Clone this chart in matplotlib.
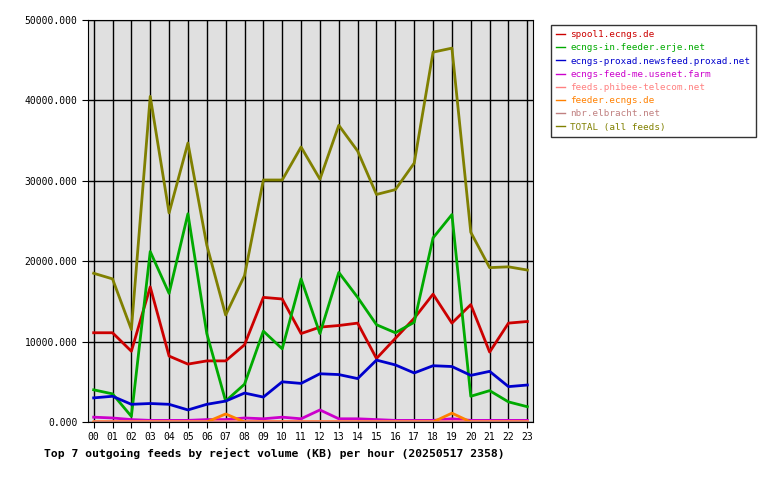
import matplotlib
matplotlib.use("Agg")
import matplotlib.pyplot as plt

hours = ["%02d" % h for h in range(24)]

spool1 = [11100, 11100, 8800, 16800, 8200, 7200, 7600, 7600, 9600, 15500, 15300, 11000,
          11800, 12000, 12300, 7900, 10400, 12900, 15900, 12300, 14600, 8700, 12300, 12500]
ecngs_in = [4000, 3500, 700, 21200, 16000, 25900, 11000, 2600, 4700, 11300, 9100, 17800,
            11000, 18600, 15500, 12100, 11100, 12400, 22900, 25800, 3200, 3900, 2500, 1900]
proxad = [3000, 3200, 2200, 2300, 2200, 1500, 2200, 2600, 3600, 3100, 5000, 4800,
          6000, 5900, 5400, 7700, 7100, 6100, 7000, 6900, 5800, 6300, 4400, 4600]
usenet_farm = [600, 500, 300, 200, 200, 200, 300, 300, 500, 400, 600, 400,
               1500, 400, 400, 300, 200, 200, 200, 400, 200, 200, 200, 200]
phibee = [100] * 24
feeder = [0, 0, 0, 0, 0, 0, 0, 1000, 0, 0, 0, 0, 0, 0, 0, 0, 0, 0, 0, 1100, 0, 0, 0, 0]
elbracht = [0] * 24
total = [18500, 17800, 11500, 40500, 26000, 34700, 22000, 13300, 18200, 30100, 30100, 34200,
         30200, 36900, 33700, 28300, 28900, 32200, 46000, 46500, 23600, 19200, 19300, 18900]

series = [
    ("spool1.ecngs.de", spool1, "#cc0000"),
    ("ecngs-in.feeder.erje.net", ecngs_in, "#00aa00"),
    ("ecngs-proxad.newsfeed.proxad.net", proxad, "#0000cc"),
    ("ecngs-feed-me.usenet.farm", usenet_farm, "#cc00cc"),
    ("feeds.phibee-telecom.net", phibee, "#ff8080"),
    ("feeder.ecngs.de", feeder, "#ff8000"),
    ("nbr.elbracht.net", elbracht, "#c08080"),
    ("TOTAL (all feeds)", total, "#808000"),
]

plt.rcParams["font.family"] = "DejaVu Sans Mono"
fig = plt.figure(figsize=(7.8, 4.8), dpi=100)
ax = fig.add_axes([88 / 780, 58 / 480, 445 / 780, 402 / 480])
ax.set_facecolor("#e0e0e0")

x = list(range(24))
for name, vals, col in series:
    ax.plot(x, vals, color=col, lw=2, label=name)

ax.set_xlim(-0.3, 23.3)
ax.set_ylim(0, 50000)
ax.set_xticks(x)
ax.set_xticklabels(hours, fontsize=7)
ax.set_yticks(range(0, 50001, 10000))
ax.set_yticklabels(["%d.000" % v for v in range(0, 50001, 10000)], fontsize=7)
ax.grid(True, color="black", lw=1)
ax.set_axisbelow(True)
ax.tick_params(length=4)
ax.set_xlabel("Top 7 outgoing feeds by reject volume (KB) per hour (20250517 2358)",
              fontsize=8.2, fontweight="bold")
ax.xaxis.set_label_coords(-0.10, -0.065)
ax.xaxis.label.set_horizontalalignment("left")

leg = fig.legend(loc="upper left", bbox_to_anchor=(546 / 780, 1 - 20 / 480),
                 prop={"size": 6.7}, frameon=True, fancybox=False, edgecolor="black",
                 handlelength=0.9, handletextpad=0.6, labelspacing=0.45, borderpad=0.6)
for txt, (_, _, col) in zip(leg.get_texts(), series):
    txt.set_color(col)
for h in leg.legend_handles:
    h.set_linewidth(1)

fig.savefig("out.png", dpi=100)
